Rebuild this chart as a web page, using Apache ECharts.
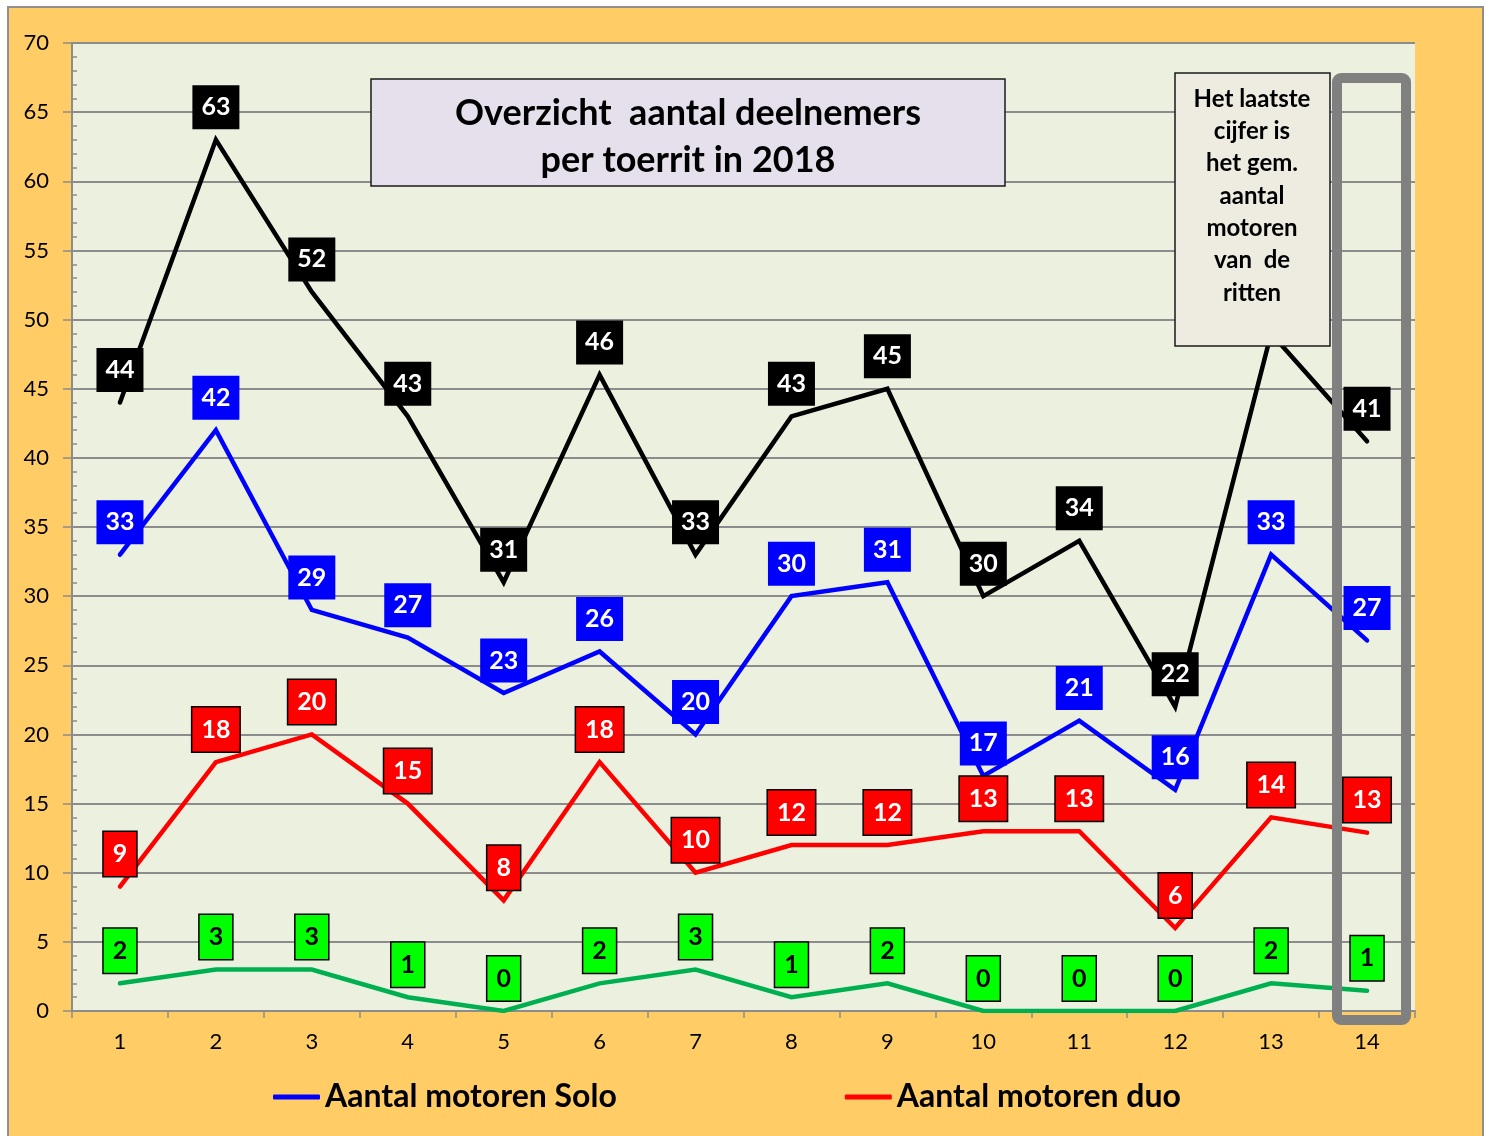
<!DOCTYPE html>
<html>
<head>
<meta charset="utf-8">
<script src="https://cdn.jsdelivr.net/npm/echarts@6/dist/echarts.min.js"></script>
<style>
  html, body { margin: 0; padding: 0; background: #ffffff; }
  #frame { position: absolute; left: 7px; top: 6px; width: 1473px; height: 1132px;
           background: #FFCC66; border: 2px solid #8f8f8f; border-bottom: none; }
  #main { position: absolute; left: 0; top: 0; width: 1489px; height: 1136px; }
</style>
</head>
<body>
<div id="frame"></div>
<div id="main"></div>
<script>
// ritten 1..14 (14 = gemiddelde)
var ritten = ['1', '2', '3', '4', '5', '6', '7', '8', '9', '10', '11', '12', '13', '14'];
var totaal = [44, 63, 52, 43, 31, 46, 33, 43, 45, 30, 34, 22, 49, 41.2];
var solo = [33, 42, 29, 27, 23, 26, 20, 30, 31, 17, 21, 16, 33, 26.8];
var duo = [9, 18, 20, 15, 8, 18, 10, 12, 12, 13, 13, 6, 14, 12.9];
var overig = [2, 3, 3, 1, 0, 2, 3, 1, 2, 0, 0, 0, 2, 1.46];

var FONT = 'Lato, "Open Sans", sans-serif';

function labelStyle(bg, fg, border) {
    return {
        show: true,
        position: 'top',
        distance: 10,
        formatter: function (p) { return Math.round(p.value); },
        backgroundColor: bg,
        color: fg,
        borderColor: border || bg,
        borderWidth: border ? 1.5 : 0,
        fontFamily: FONT,
        fontWeight: 'bold',
        fontSize: 25,
        lineHeight: 28,
        padding: [8, 9, 8, 9]
    };
}

function lineSeries(name, data, color, lbl) {
    return {
        name: name,
        type: 'line',
        data: data,
        showSymbol: true,
        symbol: 'circle',
        symbolSize: 1,
        lineStyle: { color: color, width: 4.5, cap: 'round', join: 'miter' },
        itemStyle: { color: color },
        label: lbl,
        emphasis: { disabled: true },
        z: 3
    };
}

var myChart = echarts.init(document.getElementById('main'));

var option = {
    backgroundColor: 'transparent',
    animation: false,
    textStyle: { fontFamily: FONT },
    grid: {
        left: 72, right: 74, top: 43, bottom: 125,
        show: true,
        backgroundColor: '#EBF1DE',
        borderWidth: 0
    },
    legend: {
        data: ['Aantal motoren Solo', 'Aantal motoren duo'],
        left: 268,
        top: 1076,
        itemWidth: 47,
        itemHeight: 5,
        itemGap: 228,
        icon: 'roundRect',
        textStyle: { fontFamily: FONT, fontWeight: 'bold', fontSize: 32, color: '#000' }
    },
    xAxis: {
        type: 'category',
        data: ritten,
        boundaryGap: true,
        axisLine: { lineStyle: { color: '#8c8c8c', width: 2 } },
        axisTick: { show: true, length: 7, lineStyle: { color: '#8c8c8c', width: 1.5 } },
        axisLabel: { color: '#000', fontSize: 22, margin: 20, fontFamily: FONT }
    },
    yAxis: [{
        type: 'value',
        min: 0,
        max: 70,
        interval: 5,
        axisLine: { show: true, lineStyle: { color: '#8c8c8c', width: 2 } },
        axisTick: { show: true, length: 9, lineStyle: { color: '#8c8c8c', width: 1.5 } },
        axisLabel: { color: '#000', fontSize: 22, margin: 23, fontFamily: FONT },
        splitLine: { show: true, lineStyle: { color: '#8c8c8c', width: 2 } }
    }, {
        type: 'value',
        position: 'left',
        min: 0,
        max: 70,
        interval: 1,
        axisLine: { show: false },
        axisTick: { show: true, inside: true, length: 5, lineStyle: { color: '#8c8c8c', width: 1.5 } },
        axisLabel: { show: false },
        splitLine: { show: false }
    }],
    series: [
        lineSeries('Totaal', totaal, '#000000', labelStyle('#000000', '#ffffff')),
        lineSeries('Aantal motoren Solo', solo, '#0000FF', labelStyle('#0000FF', '#ffffff')),
        lineSeries('Aantal motoren duo', duo, '#FF0000', labelStyle('#FF0000', '#ffffff', '#000000')),
        lineSeries('Overig', overig, '#00B050', labelStyle('#00FF00', '#000000', '#000000'))
    ],
    graphic: [
        {
            type: 'rect',
            z: 100,
            shape: { x: 371, y: 79, width: 634, height: 107 },
            style: { fill: '#E6E0EC', stroke: '#1a1a1a', lineWidth: 1.5 }
        },
        {
            type: 'text',
            z: 101,
            x: 688, y: 137,
            style: {
                text: 'Overzicht  aantal deelnemers\nper toerrit in 2018',
                font: 'bold 36px ' + FONT,
                lineHeight: 47,
                fill: '#000',
                align: 'center',
                verticalAlign: 'middle'
            }
        },
        {
            type: 'rect',
            z: 100,
            shape: { x: 1175, y: 73, width: 155, height: 273 },
            style: { fill: '#EEECE1', stroke: '#1a1a1a', lineWidth: 1.5 }
        },
        {
            type: 'text',
            z: 101,
            x: 1252, y: 196,
            style: {
                text: 'Het laatste\ncijfer is\nhet gem.\naantal\nmotoren\nvan  de\nritten',
                font: 'bold 24px ' + FONT,
                lineHeight: 32.3,
                fill: '#000',
                align: 'center',
                verticalAlign: 'middle'
            }
        },
        {
            type: 'rect',
            z: 100,
            shape: { x: 1337, y: 78, width: 69, height: 942, r: 4 },
            style: { fill: 'none', stroke: '#808080', lineWidth: 10 }
        }
    ]
};

myChart.setOption(option);
</script>
</body>
</html>
